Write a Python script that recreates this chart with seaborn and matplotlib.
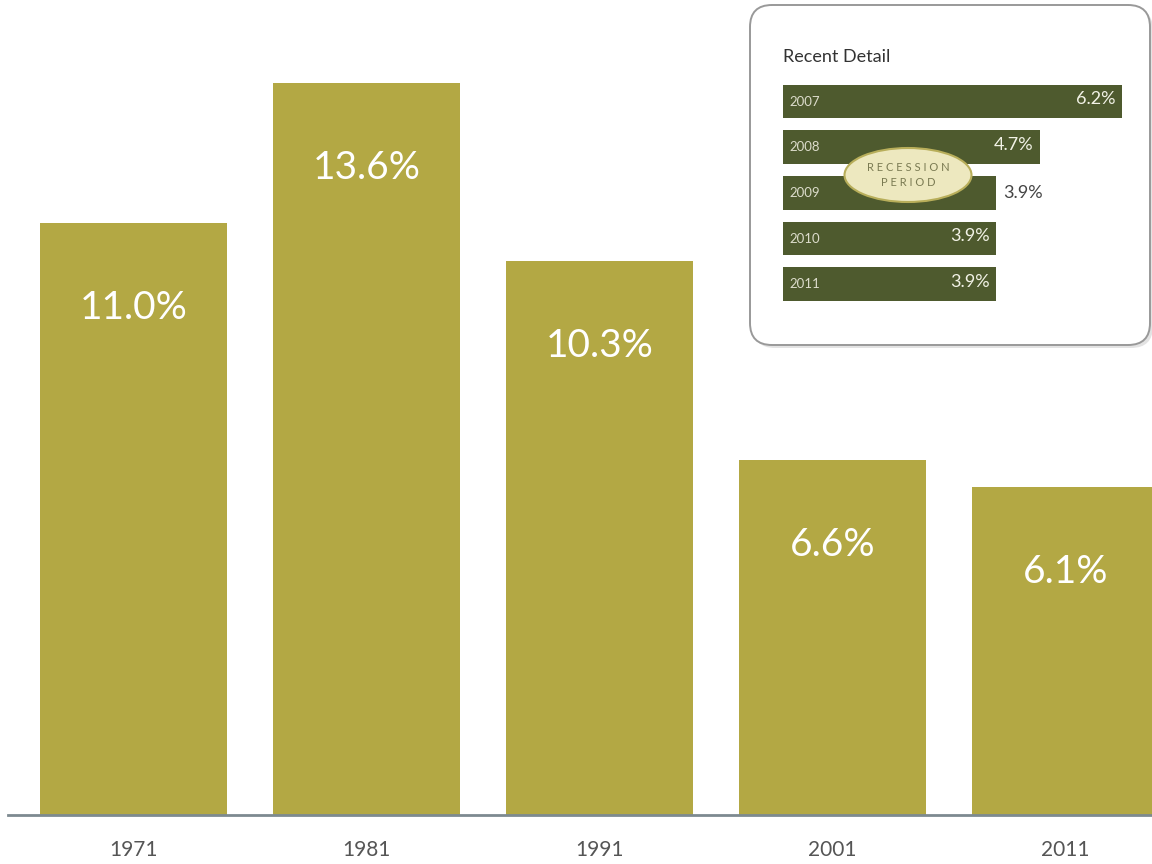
import matplotlib
matplotlib.use("Agg")
import matplotlib.pyplot as plt
import seaborn as sns
from matplotlib.patches import FancyBboxPatch, Ellipse

# ---- data ----
years = ["1971", "1981", "1991", "2001", "2011"]
rates = [11.0, 13.6, 10.3, 6.6, 6.1]
rate_labels = ["11.0%", "13.6%", "10.3%", "6.6%", "6.1%"]

recent_years = ["2007", "2008", "2009", "2010", "2011"]
recent_rates = [6.2, 4.7, 3.9, 3.9, 3.9]
recent_labels = ["6.2%", "4.7%", "3.9%", "3.9%", "3.9%"]
inset_title = "Recent Detail"
recession_text = "R E C E S S I O N\nP E R I O D"

sns.set_theme(style="white")
plt.rcParams["font.family"] = ["Lato", "DejaVu Sans"]

W, H = 11.52, 8.64
fig = plt.figure(figsize=(W, H), dpi=100)
fig.patch.set_facecolor("white")

BAR = "#b3a844"
DARK = "#4e5a2e"

# ---- main chart ----
ax = fig.add_axes([8 / 1152, 49 / 864, 1144 / 1152, 815 / 864])
ax.set_facecolor("none")
sns.barplot(x=years, y=rates, color=BAR, saturation=1, width=0.80, ax=ax,
            linewidth=0, edgecolor="none")
ax.set_xlim(-0.539, 4.371)
ax.set_ylim(0, 15.15)
for i, (v, lab) in enumerate(zip(rates, rate_labels)):
    ax.text(i, v - 1.58, lab, ha="center", va="center", color="white", fontsize=28)
for s in ["top", "right", "left"]:
    ax.spines[s].set_visible(False)
ax.spines["bottom"].set_color("#7d8a90")
ax.spines["bottom"].set_linewidth(2)
ax.set_yticks([])
ax.tick_params(axis="x", length=0, pad=18, labelsize=15, labelcolor="#555555")
ax.set_xlabel("")
ax.set_ylabel("")

# ---- inset box ----
shadow = FancyBboxPatch((7.53, 5.16), 4.0, 3.40,
                        boxstyle="round,pad=0,rounding_size=0.22",
                        transform=fig.dpi_scale_trans, facecolor="#d8d8d8",
                        edgecolor="none", zorder=2, alpha=0.7)
fig.add_artist(shadow)
box = FancyBboxPatch((7.50, 5.19), 4.0, 3.40,
                     boxstyle="round,pad=0,rounding_size=0.22",
                     transform=fig.dpi_scale_trans, facecolor="white",
                     edgecolor="#999999", linewidth=1.4, zorder=3)
fig.add_artist(box)

fig.text(783 / 1152, 1 - 57 / 864, inset_title, ha="left", va="center",
         fontsize=13, color="#333333", zorder=8)

iax = fig.add_axes([783 / 1152, 1 - 307 / 864, 347 / 1152, 229 / 864], zorder=5)
iax.set_facecolor("none")
sns.barplot(x=recent_rates, y=recent_years, orient="h", color=DARK,
            saturation=1, width=0.74, ax=iax, linewidth=0, edgecolor="none")
iax.set_xlim(0, 347 / 54.7)
iax.set_ylim(4.5, -0.515)
iax.axis("off")
for i, (yr, v, lab) in enumerate(zip(recent_years, recent_rates, recent_labels)):
    iax.text(0.12, i, yr, ha="left", va="center", fontsize=9.5, color="#dcdccb")
    if yr == "2009":
        iax.text(v + 0.12, i, lab, ha="left", va="center", fontsize=13, color="#444444")
    else:
        iax.text(v - 0.12, i - 0.05, lab, ha="right", va="center", fontsize=13, color="#f2f2e6")

ell = Ellipse((9.08, 6.89), 1.27, 0.54, transform=fig.dpi_scale_trans,
              facecolor="#ede8bf", edgecolor="#b8ae5a", linewidth=1.5, zorder=7)
fig.add_artist(ell)
fig.text(908 / 1152, 1 - 175 / 864, recession_text, ha="center", va="center",
         fontsize=8, color="#7a7a52", linespacing=1.35, zorder=8)

fig.savefig("out.png", dpi=100, facecolor="white")
